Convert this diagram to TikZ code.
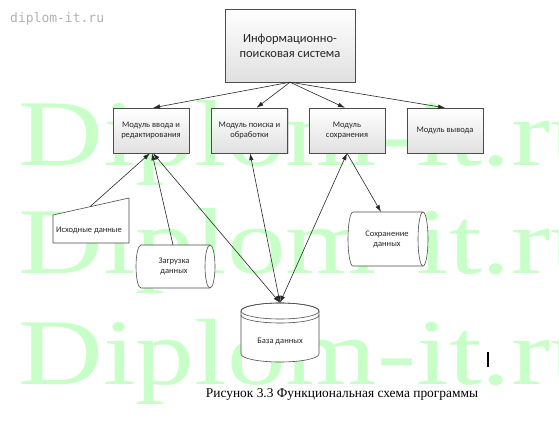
\documentclass[tikz,border=0pt]{standalone}
\usepackage{fontspec}
\setmainfont{Carlito}
\newfontfamily\capfont{Liberation Serif}
\newfontfamily\wmfont{Liberation Serif}
\newfontfamily\markfont{DejaVu Sans Mono}
\usetikzlibrary{arrows.meta,shapes.geometric,calc,shadows}
\definecolor{wmgreen}{RGB}{200,255,200}
\definecolor{linec}{RGB}{40,40,40}
\tikzset{
  wm/.style={font=\wmfont\fontsize{94}{94}\selectfont, text=wmgreen, inner sep=0pt, anchor=base west},
  modbox/.style={draw=black!70, top color=white, bottom color=black!12, minimum width=76pt, minimum height=45pt,
    align=center, inner sep=1pt, font=\fontsize{8.5}{10}\selectfont, text=black!85,
    drop shadow={opacity=0.3, shadow xshift=1.2pt, shadow yshift=-1.2pt}},
  topbox/.style={modbox, minimum width=130pt, minimum height=73pt, font=\fontsize{12.5}{15}\selectfont},
  shapeline/.style={draw=black!70, fill=white, line width=0.6pt},
  lbl/.style={align=center, inner sep=0pt, font=\fontsize{8.5}{10}\selectfont, text=black!85},
  helper/.style={draw=none, inner sep=0pt},
  arr/.style={draw=linec, line width=0.6pt, -{Latex[length=7pt,width=4.5pt]}},
  darr/.style={draw=linec, line width=0.6pt, {Latex[length=7pt,width=4.5pt]}-{Latex[length=7pt,width=4.5pt]}},
}
\begin{document}
\begin{tikzpicture}[x=1pt,y=-1pt]
\useasboundingbox (0,0) rectangle (559,426);
\fill[white] (0,0) rectangle (559,426);
% watermark
\begin{scope}
\clip (0,0) rectangle (559,426);
\node[wm] (wm1) at (18,165) {\scalebox{1.25}[1]{Diplom-it.ru}};
\node[wm] (wm2) at (18,273) {\scalebox{1.25}[1]{Diplom-it.ru}};
\node[wm] (wm3) at (18,384) {\scalebox{1.25}[1]{Diplom-it.ru}};
\end{scope}
\node[font=\markfont\fontsize{13}{13}\selectfont, text=black!30, anchor=base west, inner sep=0pt] (mark) at (10,22) {diplom-it.ru};

% top box and modules
\node[topbox] (top) at (290,45.5) {Информационно-\\поисковая система};
\node[modbox] (m1) at (151,130.5) {Модуль ввода и\\редактирования};
\node[modbox] (m2) at (249.5,130.5) {Модуль поиска и\\обработки};
\node[modbox] (m3) at (347,130.5) {Модуль\\сохранения};
\node[modbox] (m4) at (445,130.5) {Модуль вывода};

% manual input
\draw[shapeline] (53,215) -- (129,198) -- (129,243) -- (53,243) -- cycle;
\node[lbl] (src) at (89,230) {Исходные данные};
\coordinate (srctop) at (90,206.7);

% load data cylinder
\draw[shapeline] (210,245) -- (141,245) arc[start angle=270,end angle=90,x radius=5,y radius=21.5]
  -- (210,288) arc[start angle=90,end angle=-90,x radius=5,y radius=21.5] -- cycle;
\draw[shapeline, fill=none] (210,245) arc[start angle=270,end angle=90,x radius=5,y radius=21.5];
\node[lbl] (load) at (174,266.5) {Загрузка\\данных};
\coordinate (loadtop) at (173,245);

% save data cylinder
\draw[shapeline] (423,212) -- (353,212) arc[start angle=270,end angle=90,x radius=5,y radius=27]
  -- (423,266) arc[start angle=90,end angle=-90,x radius=5,y radius=27] -- cycle;
\draw[shapeline, fill=none] (423,212) arc[start angle=270,end angle=90,x radius=5,y radius=27];
\node[lbl] (save) at (387,239) {Сохранение\\данных};
\coordinate (savetop) at (381,212);

% database
\draw[shapeline] (241,311) -- (241,354) arc[start angle=180,end angle=0,x radius=39,y radius=8] -- (319,311)
  arc[start angle=0,end angle=-180,x radius=39,y radius=8] -- cycle;
\draw[shapeline, fill=none] (280,311) ellipse[x radius=39,y radius=8];
\draw[shapeline, fill=none] (241,315) arc[start angle=180,end angle=0,x radius=39,y radius=8];
\node[helper, minimum width=78pt, minimum height=59pt] (db) at (280,332.5) {};
\node[lbl] (dbl) at (280,341) {База данных};

% connectors
\draw[arr] (top.south) -- ($(m1.north)+(2,0)$);
\draw[arr] (top.south) -- ($(m2.north)+(7,0)$);
\draw[arr] (top.south) -- ($(m3.north)+(-2,0)$);
\draw[arr] (top.south) -- (m4.north);
\draw[arr] (srctop) -- ($(m1.south)+(-1,0)$);
\draw[arr] (loadtop) -- ($(m1.south)+(1,0)$);
\draw[darr] (db.north) -- ($(m1.south)+(2,0)$);
\draw[darr] (db.north) -- ($(m2.south)+(0.5,0)$);
\draw[darr] (db.north) -- (m3.south);
\draw[arr] (m3.south) -- (savetop);

% caption and cursor
\node[font=\capfont\fontsize{13.4}{15}\selectfont, anchor=base, inner sep=0pt] (cap) at (342,397) {Рисунок 3.3 Функциональная схема программы};
\draw[line width=1.6pt] (488,352) -- (488,367);
\end{tikzpicture}
\end{document}
